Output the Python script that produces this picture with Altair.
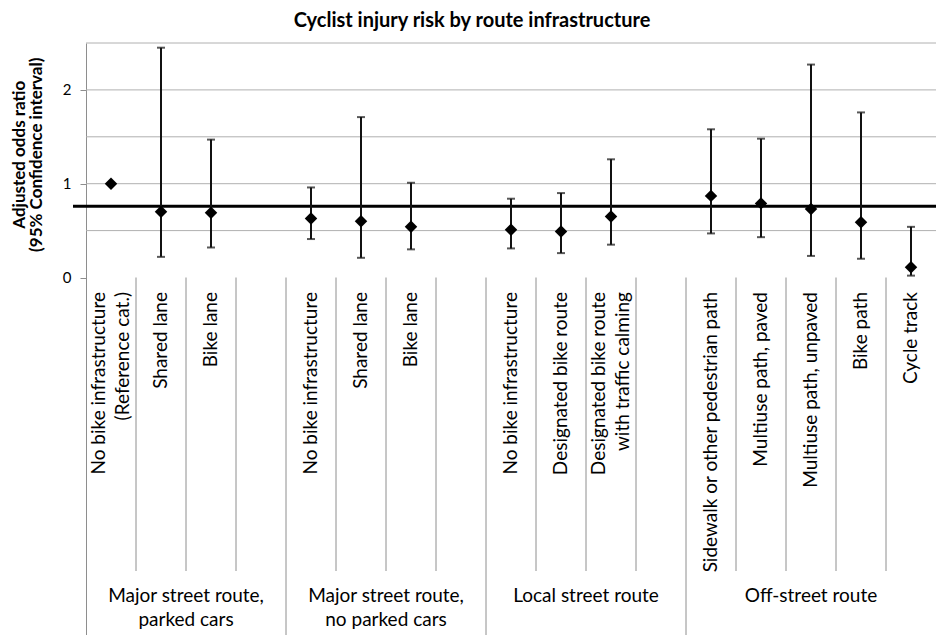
import altair as alt
import pandas as pd

# ---------------- data ----------------
categories = [
    "No bike infrastructure\n(Reference cat.)", "Shared lane", "Bike lane",
    "No bike infrastructure", "Shared lane", "Bike lane",
    "No bike infrastructure", "Designated bike route", "Designated bike route\nwith traffic calming",
    "Sidewalk or other pedestrian path", "Multiuse path, paved", "Multiuse path, unpaved",
    "Bike path", "Cycle track",
]
groups = [0, 0, 0, 1, 1, 1, 2, 2, 2, 3, 3, 3, 3, 3]
group_names = [
    "Major street route,\nparked cars",
    "Major street route,\nno parked cars",
    "Local street route",
    "Off-street route",
]
odds_ratio = [1.00, 0.70, 0.69, 0.63, 0.60, 0.54, 0.51, 0.49, 0.65, 0.87, 0.79, 0.73, 0.59, 0.11]
ci_low = [None, 0.22, 0.32, 0.41, 0.21, 0.30, 0.31, 0.26, 0.35, 0.47, 0.43, 0.23, 0.20, 0.02]
ci_high = [None, 2.45, 1.47, 0.96, 1.71, 1.01, 0.84, 0.90, 1.26, 1.58, 1.48, 2.27, 1.76, 0.54]
reference_line = [0.76]
y_tick_values = [0, 1, 2]
grid_values = [0.5, 1.0, 1.5, 2.0, 2.5]
chart_title = "Cyclist injury risk by route infrastructure"

# ---------------- geometry ----------------
W = 850
H = 592
ZERO_PX = 234.5
PX_PER_UNIT = ZERO_PX / 2.5
Y_MIN = -(H - ZERO_PX) / PX_PER_UNIT
LABEL_LH = 24

FONT = "Lato"
GRID = "#b0b0b0"
SEP = "#8e8e8e"

# ---------------- slot layout (one blank slot after each group but the last) ----------------
slots = []
pos = 0
for i, g in enumerate(groups):
    if i > 0 and g != groups[i - 1]:
        pos += 1
    slots.append(pos)
    pos += 1
n_slots = pos
SLOT_PX = W / n_slots
group_start = [min(s for s, g in zip(slots, groups) if g == k) for k in range(len(group_names))]
group_end = group_start[1:] + [n_slots]

df = pd.DataFrame({
    "cat": categories,
    "xc": [s + 0.5 for s in slots],
    "or": odds_ratio,
    "lo": ci_low,
    "hi": ci_high,
})
df_ci = df.dropna(subset=["lo", "hi"])

# one row per text line of each category label (lines side by side once rotated)
rows = []
for s, c in zip(slots, categories):
    lines = c.split("\n")
    n = len(lines)
    for k, ln in enumerate(lines):
        rows.append({"line": ln, "xl": s + 0.5 + (k - (n - 1) / 2) * LABEL_LH / SLOT_PX})
df_cat_lines = pd.DataFrame(rows)

df_groups = pd.DataFrame({
    "name": group_names,
    "xc": [(a + b) / 2 for a, b in zip(group_start, group_end)],
})
df_sep_short = pd.DataFrame({"b": [b for b in range(1, n_slots) if b not in group_start]})
df_sep_group = pd.DataFrame({"b": [b for b in group_start if b > 0]})
df_grid = pd.DataFrame({"v": grid_values})
df_ref = pd.DataFrame({"v": reference_line})
df_title = pd.DataFrame({"t": [chart_title]})

xs = alt.Scale(domain=[0, n_slots], nice=False, zero=False)
ys = alt.Scale(domain=[Y_MIN, 2.5], nice=False, zero=False)


def X(f):
    return alt.X(f, type="quantitative", scale=xs, axis=None)


grid = alt.Chart(df_grid).mark_rule(color=GRID, strokeWidth=1).encode(
    y=alt.Y("v:Q", scale=ys, axis=alt.Axis(
        values=y_tick_values, format="d", grid=False, domain=True, domainColor=SEP, domainWidth=1,
        ticks=True, tickColor=SEP, tickSize=6, labelPadding=9,
        labelFont=FONT, labelFontSize=15, labelColor="#000",
        title=["Adjusted odds ratio", "(95% Confidence interval)"],
        titleFont=FONT, titleFontSize=17, titleFontWeight="bold", titleColor="#000",
        titleX=-58, titleY=ZERO_PX / 2 - 6, titleAngle=270, titleAlign="center",
        titleBaseline="bottom", titleLineHeight=17,
    )),
    x=alt.value(0), x2=alt.value(W),
)

sep_short = alt.Chart(df_sep_short).mark_rule(color=SEP, strokeWidth=1).encode(
    x=X("b"), y=alt.datum(0, scale=ys), y2=alt.value(528),
)
sep_group = alt.Chart(df_sep_group).mark_rule(color=SEP, strokeWidth=1).encode(
    x=X("b"), y=alt.datum(0, scale=ys), y2=alt.value(H),
)

ref = alt.Chart(df_ref).mark_rule(color="#000", strokeWidth=3).encode(
    y=alt.Y("v:Q", scale=ys), x=alt.value(-13), x2=alt.value(W),
)

bars = alt.Chart(df_ci).mark_rule(color="#111", strokeWidth=2).encode(
    x=X("xc"), y=alt.Y("lo:Q", scale=ys), y2="hi:Q",
)
cap_lo = alt.Chart(df_ci).mark_tick(color="#111", orient="horizontal", size=8, thickness=2).encode(
    x=X("xc"), y=alt.Y("lo:Q", scale=ys),
)
cap_hi = alt.Chart(df_ci).mark_tick(color="#111", orient="horizontal", size=8, thickness=2).encode(
    x=X("xc"), y=alt.Y("hi:Q", scale=ys),
)
pts = alt.Chart(df).mark_point(shape="diamond", filled=True, size=155, color="#000", opacity=1).encode(
    x=X("xc"), y=alt.Y("or:Q", scale=ys),
)

cat_labels = alt.Chart(df_cat_lines).mark_text(
    font=FONT, fontSize=19, color="#000", angle=270, align="right", baseline="middle",
).encode(x=X("xl"), y=alt.value(249), text="line:N")

grp_labels = alt.Chart(df_groups).mark_text(
    font=FONT, fontSize=19, color="#000", align="center", baseline="alphabetic",
    lineBreak="\n", lineHeight=24,
).encode(x=X("xc"), y=alt.value(559), text="name:N")

title = alt.Chart(df_title).mark_text(
    font=FONT, fontSize=20, fontWeight="bold", color="#000", align="center", baseline="alphabetic",
).encode(x=alt.value(386), y=alt.value(-16), text="t:N")

chart = alt.layer(
    grid, sep_short, sep_group, ref, bars, cap_lo, cap_hi, pts, cat_labels, grp_labels, title
).properties(
    width=W, height=H,
    autosize=alt.AutoSizeParams(type="none"),
    padding={"left": 78, "top": 35, "right": 0, "bottom": 0},
).configure_view(stroke=None)

chart.save("out.html", embed_options={"renderer": "svg", "actions": False})
